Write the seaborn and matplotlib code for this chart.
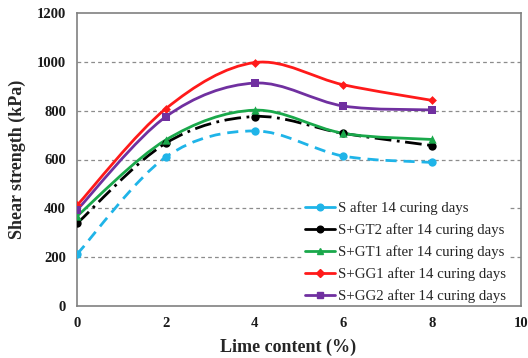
import numpy as np
import pandas as pd
import matplotlib
matplotlib.use("Agg")
import matplotlib.pyplot as plt
from matplotlib.path import Path
from matplotlib.patches import PathPatch
from matplotlib.lines import Line2D
import seaborn as sns

lime = [0, 2, 4, 6, 8]
s_14 = [212, 610, 717, 614, 588]
gt2_14 = [338, 667, 776, 707, 657]
gt1_14 = [368, 680, 802, 707, 682]
gg1_14 = [412, 808, 997, 906, 842]
gg2_14 = [393, 775, 913, 819, 803]

labels = ["S after 14 curing days", "S+GT2 after 14 curing days",
          "S+GT1 after 14 curing days", "S+GG1 after 14 curing days",
          "S+GG2 after 14 curing days"]
series = [s_14, gt2_14, gt1_14, gg1_14, gg2_14]
colors = ["#1fb4e8", "#000000", "#1aa84b", "#ff1a1a", "#7030a0"]
markers = ["o", "o", "^", "D", "s"]
msizes = [6, 6, 6, 4.5, 6]
lstyles = [(0, (4, 2.5)), (0, (6, 2, 1, 2)), "-", "-", "-"]

sns.set_theme(style="white")
plt.rcParams["font.family"] = ["Liberation Serif", "DejaVu Serif"]

fig = plt.figure(figsize=(5.28, 3.58), dpi=100)
ax = fig.add_axes([77/528, 1-306/358, (521-77)/528, (306-13)/358])

df = pd.concat([pd.DataFrame({"lime": lime, "val": v, "series": l})
                for v, l in zip(series, labels)])


def smooth_path(x, y, t=0.5):
    x = np.asarray(x, float); y = np.asarray(y, float)
    verts = [(x[0], y[0])]
    codes = [Path.MOVETO]
    n = len(x)
    for i in range(n - 1):
        p0 = np.array([x[max(i-1, 0)], y[max(i-1, 0)]])
        p1 = np.array([x[i], y[i]])
        p2 = np.array([x[i+1], y[i+1]])
        p3 = np.array([x[min(i+2, n-1)], y[min(i+2, n-1)]])
        c1 = p1 + (p2 - p0) * t / 3
        c2 = p2 - (p3 - p1) * t / 3
        verts += [tuple(c1), tuple(c2), tuple(p2)]
        codes += [Path.CURVE4] * 3
    return Path(verts, codes)


handles = []
for lab, col, mk, ms, ls in zip(labels, colors, markers, msizes, lstyles):
    sub = df[df["series"] == lab]
    patch = PathPatch(smooth_path(sub["lime"], sub["val"]), facecolor="none",
                      edgecolor=col, lw=2, linestyle=ls, zorder=3)
    ax.add_patch(patch)
    sns.scatterplot(data=sub, x="lime", y="val", marker=mk, color=col,
                    s=ms**2, edgecolor=col, linewidth=0, ax=ax, zorder=4,
                    legend=False)
    handles.append(Line2D([0], [0], color=col, lw=2, marker=mk,
                          markersize=ms*0.8))

ax.set_xlim(0, 10)
ax.set_ylim(0, 1200)
ax.set_xticks([0, 2, 4, 6, 8, 10])
ax.set_yticks([0, 200, 400, 600, 800, 1000, 1200])
for yv in [200, 400, 600, 800, 1000]:
    ax.axhline(yv, color="#8c8c8c", lw=0.9, linestyle=(0, (3, 2.5)), zorder=1)

for sp in ax.spines.values():
    sp.set_color("#808080")
    sp.set_linewidth(1.2)
ax.tick_params(axis="both", length=0, pad=8, labelsize=10.5, colors="#1a1a1a")
for t in ax.get_xticklabels() + ax.get_yticklabels():
    t.set_fontweight("bold")

ax.set_xlabel("Lime content (%)", fontsize=13, fontweight="bold")
ax.xaxis.set_label_coords(0.475, -0.11)
ax.set_ylabel("Shear strength (kPa)", fontsize=13, fontweight="bold", labelpad=8)

leg = ax.legend(handles, labels, loc="lower right", bbox_to_anchor=(0.973, 0.0),
                frameon=True, fontsize=10.7, handlelength=2.0, handletextpad=0.2,
                labelspacing=0.55, borderaxespad=0.05, borderpad=0.15)
leg.get_frame().set_edgecolor("none")
leg.get_frame().set_facecolor("white")
leg.get_frame().set_alpha(1)
leg.set_zorder(5)

fig.savefig("out.png", dpi=100)
